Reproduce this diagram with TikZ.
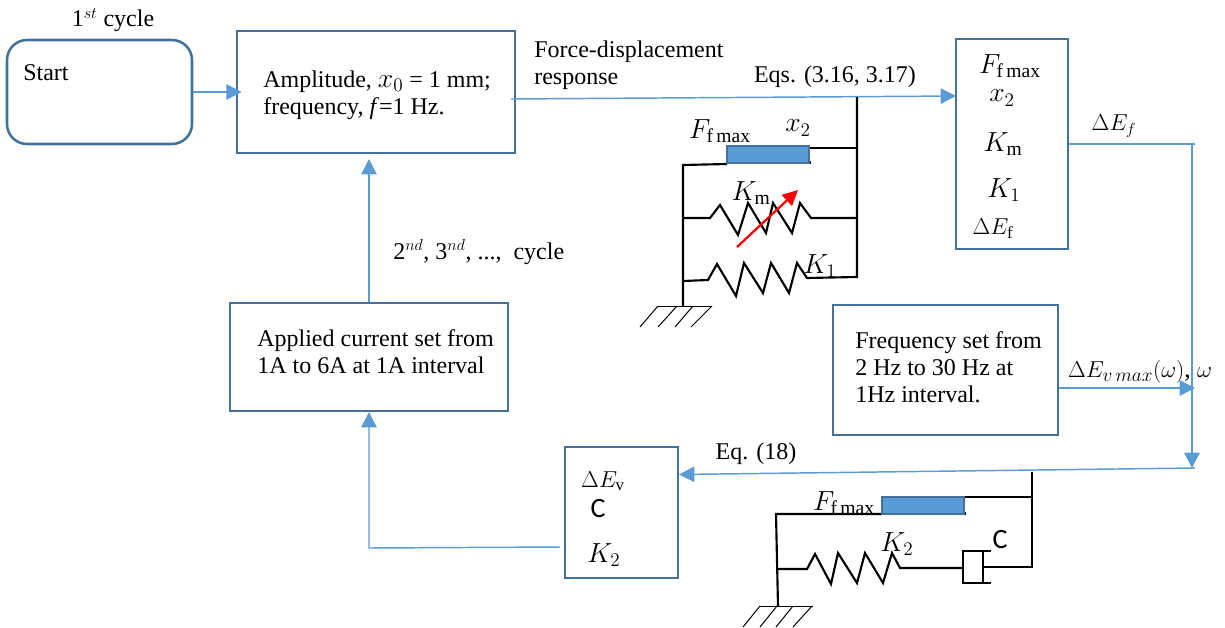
\documentclass[tikz,border=0pt]{standalone}
\usepackage{fontspec}
\setmainfont{Liberation Serif}
\newfontfamily\carlito{Carlito}
\usetikzlibrary{arrows.meta}
\definecolor{flowblue}{HTML}{5B9BD5}
\definecolor{edgeblue}{HTML}{41719C}
\tikzset{
  every node/.style={font=\fontsize{18}{20.25}\selectfont,inner sep=0pt},
  sym/.style={font=\fontsize{21}{24}\selectfont},
  txt/.style={align=left,anchor=west},
  box/.style={draw=edgeblue,line width=1.9pt,inner sep=0pt},
  flow/.style={draw=flowblue,line width=1.1pt,-{Triangle[length=11.5pt,width=11.5pt]}},
  wire/.style={draw=flowblue,line width=1.1pt},
  mech/.style={draw=black,line width=1.6pt},
  hatch/.style={draw=black,line width=0.75pt},
  block/.style={draw=edgeblue,line width=1.2pt,fill=flowblue},
}
\begin{document}
\begin{tikzpicture}[x=0.75pt,y=-0.75pt]
  \useasboundingbox (0,0) rectangle (1225,628);
  % boxes
  \node[box,rounded corners=15pt,minimum width=138.75pt,minimum height=78pt] (start) at (99.5,92) {};
  \node[box,minimum width=208.5pt,minimum height=91.5pt] (amp) at (376,92) {};
  \node[box,minimum width=84pt,minimum height=157.5pt] (res) at (1012,144) {};
  \node[box,minimum width=208.5pt,minimum height=81pt] (cur) at (369,357) {};
  \node[box,minimum width=168.75pt,minimum height=97.5pt] (freq) at (945.5,370) {};
  \node[box,minimum width=84.75pt,minimum height=98.25pt] (low) at (621.5,512.5) {};
  % labels
  \node[txt] (lstart) at (23,73) {Start};
  \node[txt] (lamp) at (263,95) {Amplitude, {\fontsize{20}{20}\selectfont$x_0$} = 1 mm;\\frequency, \textit{f}=1 Hz.};
  \node[txt] (lcur) at (257,352) {Applied current set from\\1A to 6A at 1A interval};
  \node[txt] (lfreq) at (855,367) {Frequency set from\\2 Hz to 30 Hz at\\1Hz interval.};
  \node (lfirst) at (113,20) {1$^{st}$ cycle};
  \node[txt] (lforce) at (534,65) {Force-displacement\\response};
  \node (leqs) at (835,77) {Eqs. (3.16, 3.17)};
  \node[txt] (lcycle) at (393,252) {2$^{nd}$, 3$^{nd}$, ...,\ \ cycle};
  \node (lef) at (1114,126) {$\Delta E_f$};
  \node[font=\fontsize{19}{24}\selectfont] (lev) at (1140,372) {$\Delta E_{v\,max}(\omega)$, $\omega$};
  \node (leq) at (756,454) {Eq. (18)};
  \node[sym] (rf) at (1010,66) {$F_{\mathrm{f\,max}}$};
  \node[sym] (rx) at (1002,98) {$x_2$};
  \node[sym] (rkm) at (1003,144) {$K_{\mathrm{m}}$};
  \node[sym] (rk) at (1004,190) {$K_1$};
  \node (re) at (993,229) {$\Delta E_{\mathrm{f}}$};
  \node (we) at (603,481) {$\Delta E_{\mathrm{v}}$};
  \node[sym] (wc) at (598,509) {\carlito C};
  \node[sym] (wk) at (604,555) {$K_2$};
  % flow
  \coordinate (ampout) at (511,99);
  \coordinate (resin) at (956,96);
  \coordinate (ampin) at (369,159);
  \coordinate (efturn) at (1192,144);
  \coordinate (evend) at (1195,388);
  \coordinate (eqturn) at (1192,468);
  \coordinate (lowin) at (679,474.5);
  \coordinate (lowout) at (560,547);
  \coordinate (curin) at (369,412);
  \draw[flow,shorten >=-4.5pt] (start) -- (amp);
  \draw[flow] (ampout) -- (resin);
  \draw[flow] (cur.north) -- (ampin);
  \draw[wire] (res.east |- efturn) -- (1195,144);
  \draw[flow] (efturn) -- (eqturn);
  \draw[flow] (freq.east |- evend) -- (evend);
  \draw[flow] (1195,468) -- (lowin);
  \draw[flow] (lowout) -- (369,548) -- (curin);
  % upper mechanism
  \draw[mech] (857,97) -- (857,277) -- (807,278) -- (797,263) -- (789,293) -- (771,263) -- (763,293)
    -- (744,263) -- (736,296) -- (717,264) -- (708,280) -- (683,281);
  \draw[mech] (683,306) -- (683,165) -- (727,164);
  \draw[mech] (809,148) -- (857,148);
  \draw[mech] (805,162.5) -- (811,162.5);
  \draw[mech] (683,218) -- (710,218) -- (720,205) -- (738,235) -- (748,203) -- (766,233) -- (773,203)
    -- (792,233) -- (800,203) -- (811,218) -- (857,218);
  \filldraw[block] (727,146) rectangle (809,163);
  \draw[red,line width=1.7pt,-{Triangle[length=11.5pt,width=11pt]}] (737,247) -- (798,190);
  \draw[hatch] (658,306) -- (712,306);
  \draw[hatch] (658,306) -- (640,327) (677,306) -- (658,327) (693,306) -- (675,327) (712,306) -- (691,327);
  \node[sym] (uf) at (720,131) {$F_{\mathrm{f\,max}}$};
  \node[sym] (ux) at (798,128) {$x_2$};
  \node[sym] (um) at (751,193) {$K_{\mathrm{m}}$};
  \node[sym] (uk) at (820,266) {$K_1$};
  % lower mechanism
  \draw[mech] (1032,472) -- (1032,567) -- (983,567);
  \draw[mech] (964,497) -- (1032,497);
  \draw[mech] (778,606) -- (776,514) -- (882,514);
  \draw[mech] (960,513.5) -- (966,513.5);
  \draw[mech] (778,569) -- (807,569) -- (815,554) -- (831,584) -- (838,553) -- (857,583) -- (865,553)
    -- (883,583) -- (892,553) -- (900,568) -- (963,568);
  \draw[mech] (991,551) -- (963,551) -- (963,583) -- (991,583);
  \draw[mech] (983,551) -- (983,583);
  \filldraw[block] (882,497) rectangle (964,514);
  \draw[hatch] (760,606) -- (813,606);
  \draw[hatch] (760,606) -- (743,627) (777,606) -- (760,627) (793,606) -- (776,627) (812,606) -- (793,627);
  \node[sym] (vf) at (844,503) {$F_{\mathrm{f\,max}}$};
  \node[sym] (vk) at (897,544) {$K_2$};
  \node[sym] (vc) at (1000,540) {\carlito C};
\end{tikzpicture}
\end{document}
